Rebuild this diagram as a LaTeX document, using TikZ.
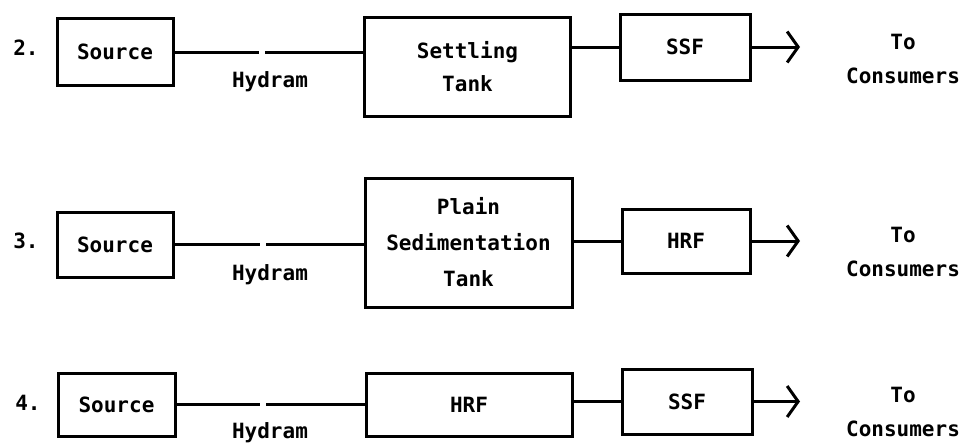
\documentclass[tikz,border=0pt]{standalone}
\usepackage{fontspec}
\newfontfamily\dfont{DejaVu Sans Mono}
\usetikzlibrary{arrows.meta}
\begin{document}
\begin{tikzpicture}[x=1pt,y=-1pt,
  box/.style={draw,line width=3pt,inner sep=0pt,align=center},
  txt/.style={font=\dfont\bfseries\fontsize{21}{34}\selectfont,align=center,inner sep=0pt},
  num/.style={font=\dfont\bfseries\fontsize{21}{24}\selectfont,inner sep=0pt},
  pipe/.style={line width=3pt},
  outarrow/.style={line width=3pt,-{Straight Barb[length=11pt 0 0,width=31pt 0 0,line width=3pt]}}]
\useasboundingbox (0,0) rectangle (964,442);
% row 2
\node[num] (n2) at (26,48) {2.};
\node[box,txt,minimum width=116pt,minimum height=67pt] (src2) at (115,52) {Source};
\node[box,txt,minimum width=206pt,minimum height=99pt,font=\dfont\bfseries\fontsize{21}{33}\selectfont] (set2) at (467.5,66.5) {Settling\\Tank};
\node[box,txt,minimum width=130pt,minimum height=66pt] (ssf2) at (685,47) {SSF};
\node[txt] (hy2) at (270,82) {Hydram};
\node[txt] (to2) at (903,59) {To\\Consumers};
\coordinate (g2a) at (259,52);
\coordinate (g2b) at (265,52);
\coordinate (e2) at (800,47);
\draw[pipe] (src2.east) -- (g2a);
\draw[pipe] (g2b) -- (set2.west |- g2b);
\draw[pipe] (set2.east |- ssf2.west) -- (ssf2.west);
\draw[outarrow] (ssf2.east) -- (e2);
% row 3
\node[num] (n3) at (26,241) {3.};
\node[box,txt,minimum width=116pt,minimum height=65pt] (src3) at (115,244.5) {Source};
\node[box,txt,minimum width=207pt,minimum height=129pt,font=\dfont\bfseries\fontsize{21}{36}\selectfont] (sed3) at (468.5,242.5) {Plain\\Sedimentation\\Tank};
\node[box,txt,minimum width=128pt,minimum height=64pt] (hrf3) at (686,241) {HRF};
\node[txt] (hy3) at (270,275) {Hydram};
\node[txt] (to3) at (903,252) {To\\Consumers};
\coordinate (g3a) at (260,244.5);
\coordinate (g3b) at (266,244.5);
\coordinate (e3) at (800,241);
\draw[pipe] (src3.east) -- (g3a);
\draw[pipe] (g3b) -- (sed3.west |- g3b);
\draw[pipe] (sed3.east |- hrf3.west) -- (hrf3.west);
\draw[outarrow] (hrf3.east) -- (e3);
% row 4
\node[num] (n4) at (28,403) {4.};
\node[box,txt,minimum width=117pt,minimum height=63pt] (src4) at (116.5,404.5) {Source};
\node[box,txt,minimum width=206pt,minimum height=63pt] (hrf4) at (469,404.5) {HRF};
\node[box,txt,minimum width=130pt,minimum height=65pt] (ssf4) at (687,401.5) {SSF};
\node[txt] (hy4) at (270,433) {Hydram};
\node[txt] (to4) at (903,412) {To\\Consumers};
\coordinate (g4a) at (260,404.5);
\coordinate (g4b) at (266,404.5);
\coordinate (e4) at (800,401.5);
\draw[pipe] (src4.east) -- (g4a);
\draw[pipe] (g4b) -- (hrf4.west);
\draw[pipe] (hrf4.east |- ssf4.west) -- (ssf4.west);
\draw[outarrow] (ssf4.east) -- (e4);
\end{tikzpicture}
\end{document}
